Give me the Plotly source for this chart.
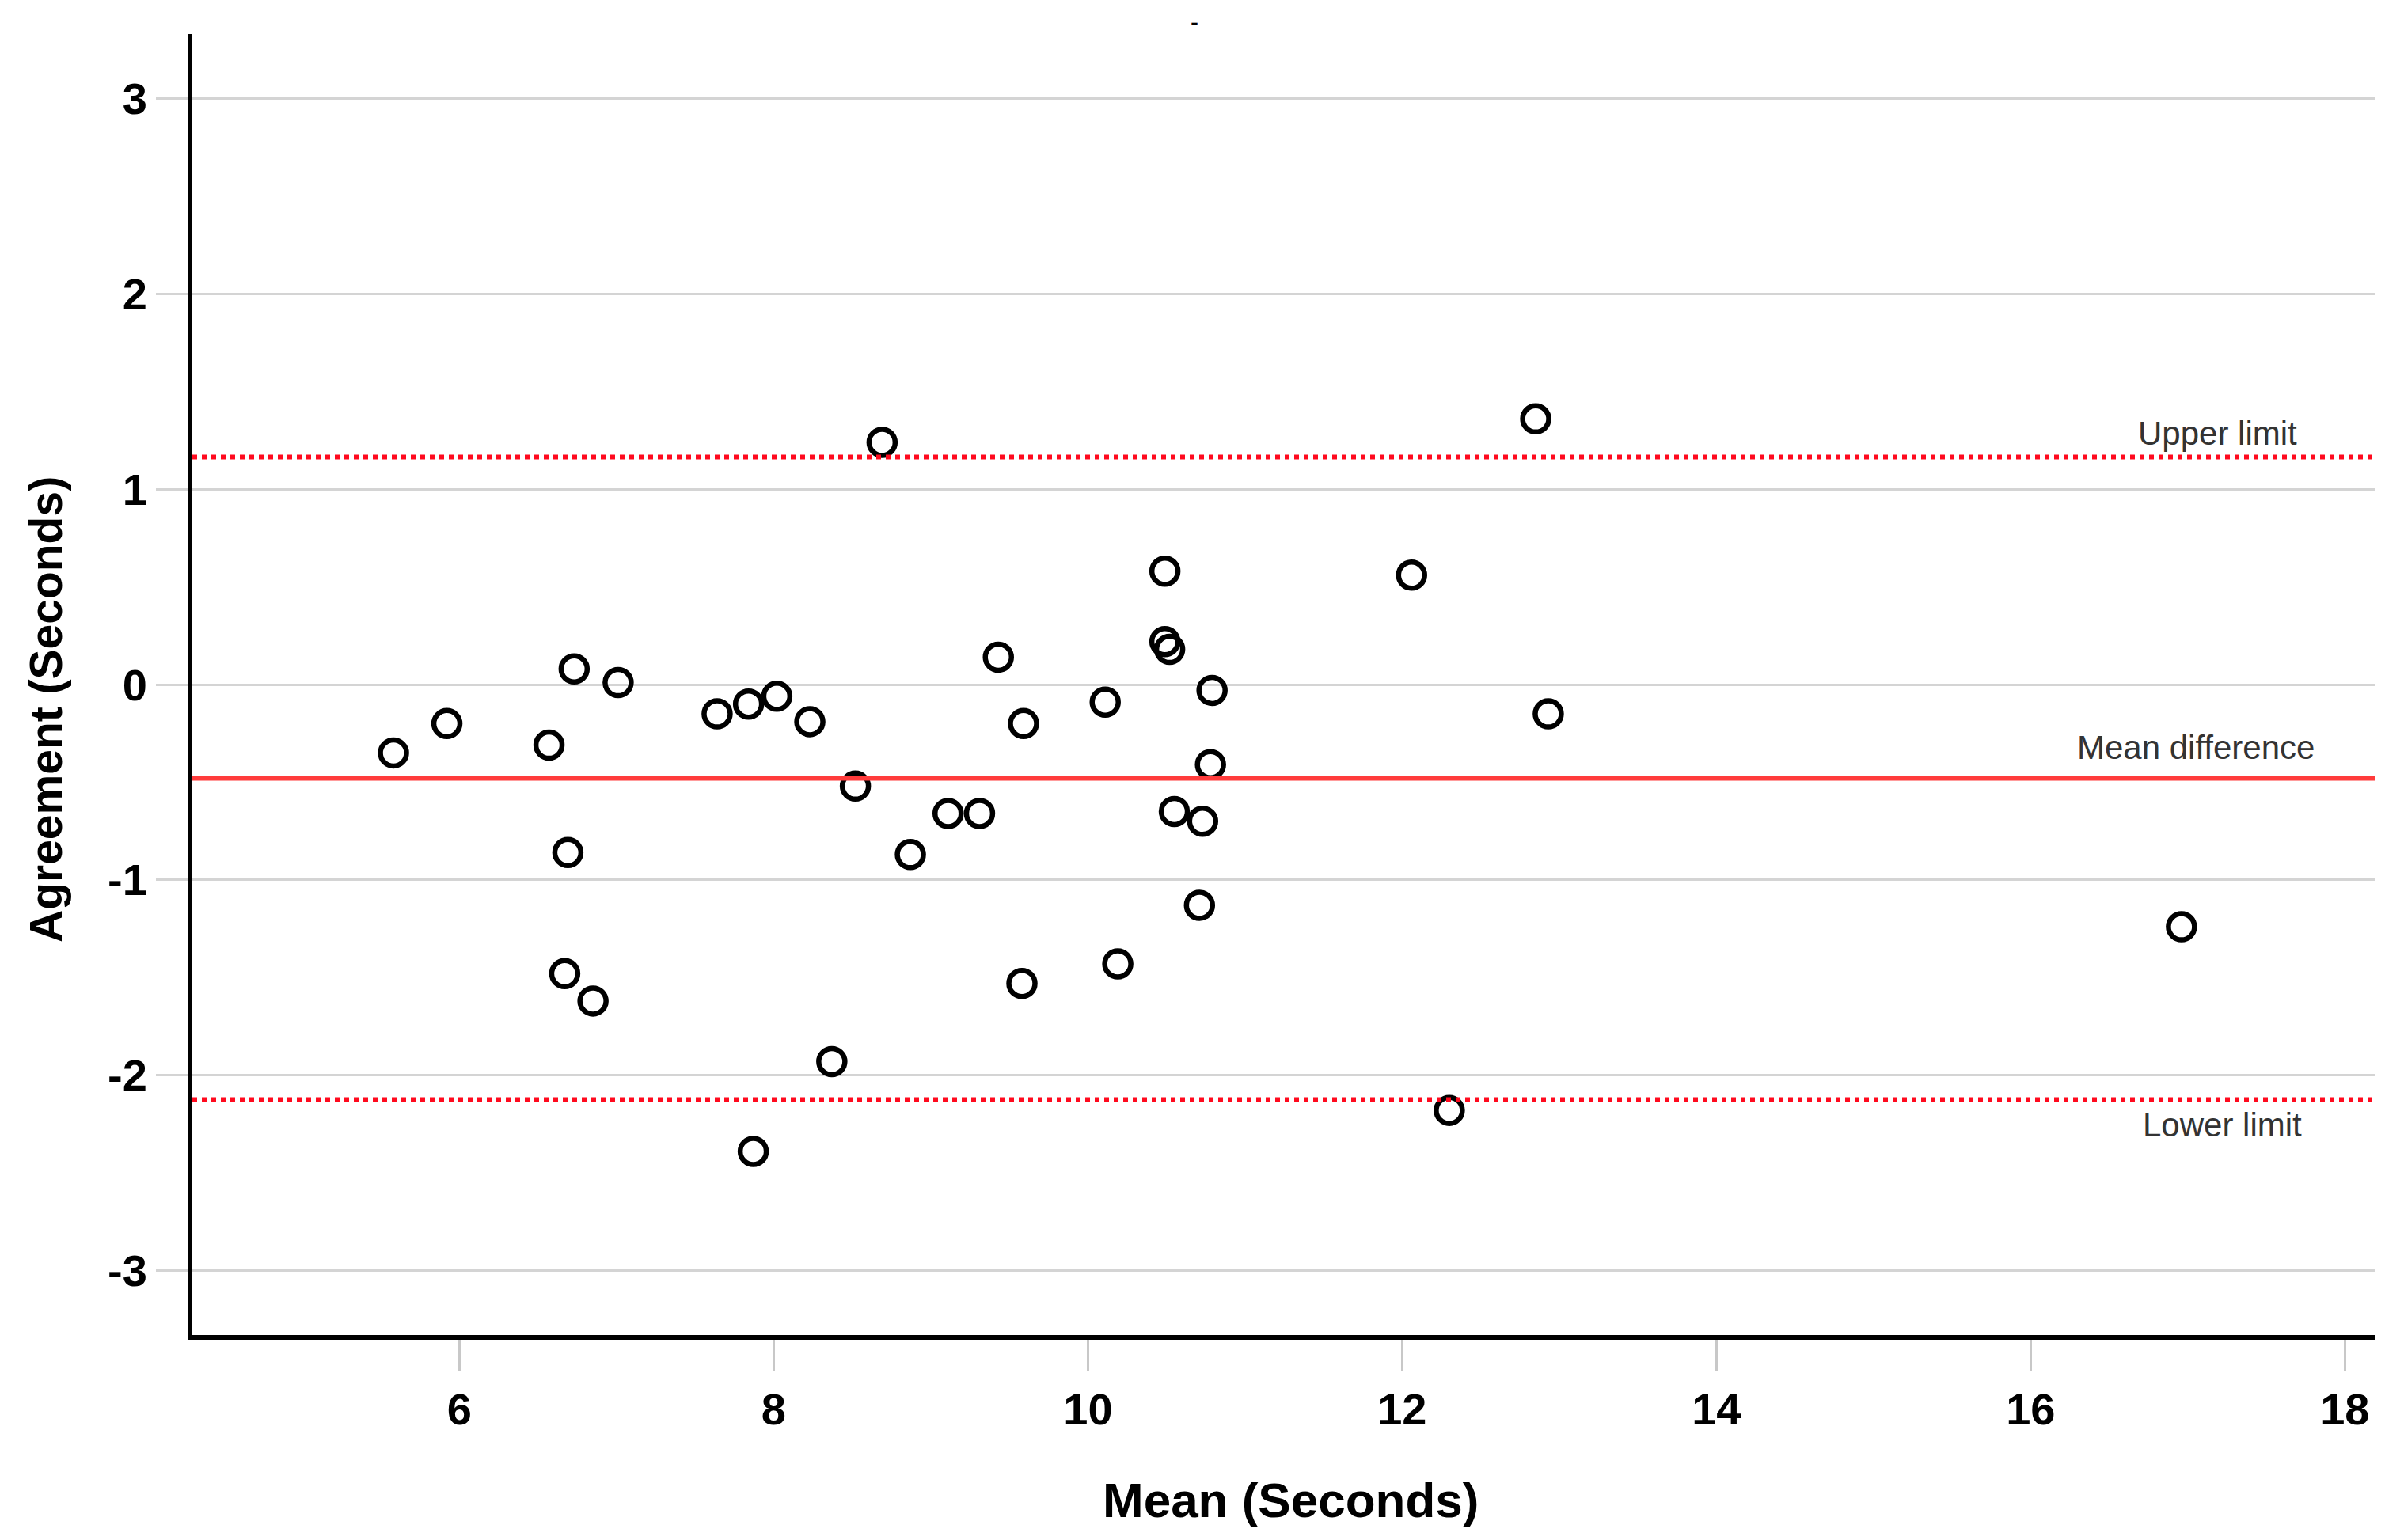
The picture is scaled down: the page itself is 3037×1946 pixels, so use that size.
import plotly.graph_objects as go

# ---- data ----
mean_seconds = [5.58, 5.92, 6.57, 6.73, 7.01, 6.69, 6.67, 6.85, 7.64, 7.84, 8.02, 8.23,
                8.52, 8.69, 8.37, 7.87, 8.87, 9.11, 9.31, 9.43, 9.59, 9.58, 10.11, 10.19,
                10.49, 10.49, 10.52, 10.79, 10.78, 10.55, 10.73, 10.71, 12.06, 12.85,
                12.93, 12.30, 16.96]
agreement_seconds = [-0.35, -0.20, -0.31, 0.08, 0.01, -0.86, -1.48, -1.62, -0.15, -0.10,
                     -0.06, -0.19, -0.52, 1.24, -1.93, -2.39, -0.87, -0.66, -0.66, 0.14,
                     -0.20, -1.53, -0.09, -1.43, 0.58, 0.22, 0.18, -0.03, -0.41, -0.65,
                     -0.70, -1.13, 0.56, 1.36, -0.15, -2.18, -1.24]

mean_difference = -0.48
upper_limit = 1.165
lower_limit = -2.125

x_ticks = [6, 8, 10, 12, 14, 16, 18]
y_ticks = [-3, -2, -1, 0, 1, 2, 3]

FONT = "Arial, 'Liberation Sans', sans-serif"

W, H = 3037, 1946
ML, MR, MT, MB = 243, 37, 43, 259
PW, PH = W - ML - MR, H - MT - MB


def px_to_paper(px, py):
    return (px - ML) / PW, (H - MB - py) / PH


fig = go.Figure()

fig.add_trace(go.Scatter(
    x=mean_seconds, y=agreement_seconds, mode="markers",
    marker=dict(symbol="circle-open", size=33, color="black",
                line=dict(color="black", width=6.5)),
    showlegend=False, hoverinfo="x+y",
))

# reference lines
fig.add_shape(type="line", xref="x domain", x0=0, x1=1, yref="y",
              y0=mean_difference, y1=mean_difference,
              line=dict(color="#ff3b3b", width=6), layer="above")
for lim in (upper_limit, lower_limit):
    fig.add_shape(type="line", xref="x domain", x0=0, x1=1, yref="y",
                  y0=lim, y1=lim,
                  line=dict(color="#ff0a1e", width=6, dash="6px,6px"), layer="above")

label_font = dict(family=FONT, size=42, color="#333333")
fig.add_annotation(x=17.19, y=upper_limit, xref="x", yref="y", text="Upper limit",
                   showarrow=False, yanchor="bottom", yshift=4, font=label_font)
fig.add_annotation(x=17.05, y=mean_difference, xref="x", yref="y", text="Mean difference",
                   showarrow=False, yanchor="bottom", yshift=13, font=label_font)
fig.add_annotation(x=17.22, y=lower_limit, xref="x", yref="y", text="Lower limit",
                   showarrow=False, yanchor="top", yshift=-6, font=label_font)

# axis titles
tx, ty = px_to_paper(1631, 1895)
fig.add_annotation(x=tx, y=ty, xref="paper", yref="paper", text="Mean (Seconds)",
                   showarrow=False, xanchor="center", yanchor="middle",
                   font=dict(family=FONT, size=62, color="black", weight="bold"))
tx, ty = px_to_paper(58, 897)
fig.add_annotation(x=tx, y=ty, xref="paper", yref="paper", text="Agreement (Seconds)",
                   showarrow=False, xanchor="center", yanchor="middle", textangle=-90,
                   font=dict(family=FONT, size=57, color="black", weight="bold"))

# small stray mark at the top of the original figure
tx, ty = px_to_paper(1509, 27)
fig.add_annotation(x=tx, y=ty, xref="paper", yref="paper", text="-",
                   showarrow=False, xanchor="center", yanchor="middle",
                   font=dict(family=FONT, size=30, color="black"))

fig.update_layout(
    width=W, height=H,
    margin=dict(l=ML, r=MR, t=MT, b=MB),
    paper_bgcolor="white", plot_bgcolor="white",
    font=dict(family=FONT, color="black"),
    xaxis=dict(
        range=[4.3, 18.19], tickvals=x_ticks, ticktext=[str(v) for v in x_ticks],
        showgrid=False, zeroline=False,
        showline=True, linecolor="black", linewidth=6,
        ticks="outside", ticklen=40, tickwidth=3, tickcolor="#c8c8c8",
        tickfont=dict(family=FONT, size=56, color="black", weight="bold"),
        automargin=False,
    ),
    yaxis=dict(
        range=[-3.33, 3.33], tickvals=y_ticks, ticktext=[str(v) for v in y_ticks],
        showgrid=True, gridcolor="#d4d4d4", gridwidth=3, zeroline=False,
        showline=True, linecolor="black", linewidth=6,
        ticks="outside", ticklen=40, tickwidth=3, tickcolor="#d4d4d4",
        tickfont=dict(family=FONT, size=56, color="black", weight="bold"),
        automargin=False,
    ),
)

fig.write_html("out.html", config={"displayModeBar": False},
               post_script="document.body.style.margin='0';document.body.style.overflow='hidden';")
